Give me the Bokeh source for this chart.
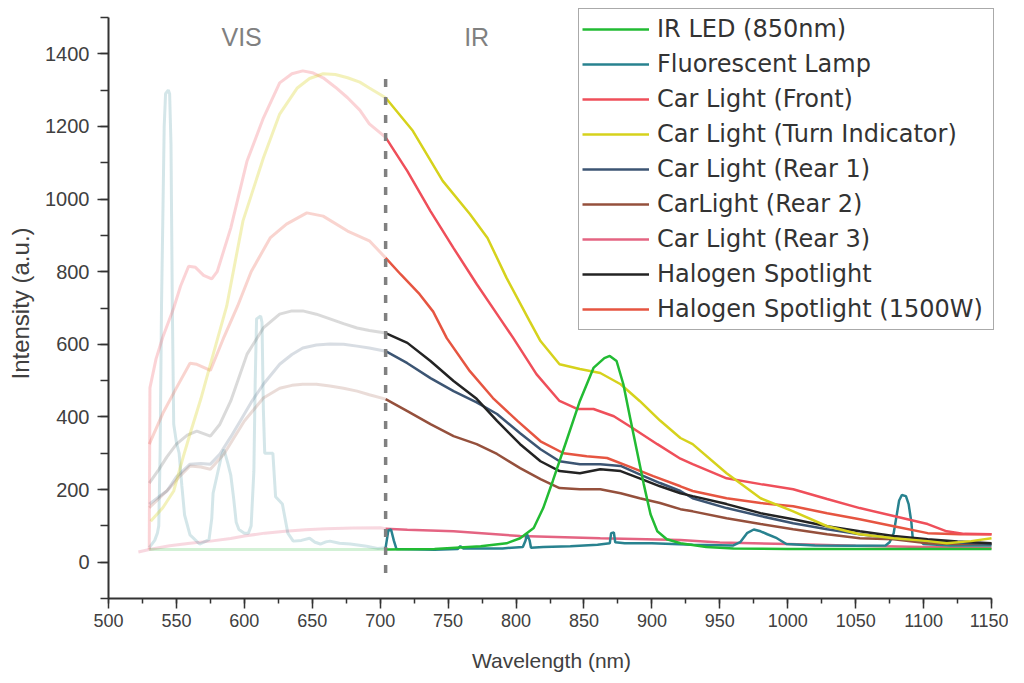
import numpy as np
from bokeh.plotting import figure
from bokeh.models import Range1d, SingleIntervalTicker, Legend, LegendItem
from bokeh.embed import file_html
from bokeh.resources import INLINE
from bokeh.core.properties import value

# ---------------- data (wavelength nm, intensity a.u.) ----------------
led_wl = [530, 600, 650, 704, 740, 774, 793, 803, 813, 820, 827, 837, 847, 857, 865, 869,
          874, 879, 884, 889, 894, 899, 904, 911, 921, 940, 960, 1000, 1050, 1100, 1150]
led_val = [35, 35, 35, 35, 36, 44, 52, 66, 94, 149, 223, 333, 444, 535, 562, 568,
           554, 490, 397, 306, 215, 132, 85, 63, 52, 42, 38, 36, 36, 36, 36]

fl_wl = [530, 534, 536, 537, 538, 539, 541, 542, 544, 545, 546, 547, 548, 550, 552, 554, 556,
         560, 567, 574, 576, 577, 580, 583, 585, 588, 590, 592, 594, 596, 600, 603, 605, 607,
         608, 609, 612, 613, 614, 615, 621, 623, 628, 630, 632, 636, 642, 648, 652, 656, 660,
         663, 670, 678, 690, 698, 704, 706, 708, 710, 712, 740, 757, 759, 761, 790, 805, 807,
         808, 810, 811, 820, 840, 860, 869, 870, 872, 873, 880, 900, 930, 960, 965, 970, 975,
         980, 985, 992, 999, 1020, 1050, 1072, 1075, 1078, 1082, 1084, 1087, 1089, 1091, 1092,
         1097, 1100, 1120, 1150]
fl_val = [40, 60, 80, 100, 300, 700, 1200, 1290, 1300, 1290, 1150, 700, 380, 330, 300, 210, 130,
          75, 50, 62, 120, 190, 240, 290, 310, 270, 240, 180, 110, 90, 80, 80, 100, 250,
          500, 670, 678, 660, 420, 300, 300, 180, 160, 120, 80, 58, 60, 66, 55, 50, 56,
          58, 52, 50, 44, 38, 40, 88, 90, 60, 36, 34, 36, 44, 38, 38, 42, 60,
          78, 60, 40, 42, 44, 48, 52, 80, 82, 55, 52, 52, 48, 46, 55, 80, 90,
          85, 77, 66, 50, 46, 45, 46, 55, 80, 170, 185, 182, 160, 110, 66,
          62, 50, 46, 46]

front_wl = [530, 530.5, 535, 540, 548, 553, 559, 564, 570, 576, 580, 590, 602, 614, 626, 635,
            643, 650, 658, 667, 676, 685, 692, 704, 720, 737, 754, 771, 788, 798, 815, 832,
            845, 857, 872, 886, 904, 921, 930, 955, 980, 1004, 1029, 1053, 1078, 1103, 1117,
            1130, 1150]
front_val = [35, 480, 560, 620, 700, 760, 815, 812, 790, 780, 800, 920, 1105, 1223, 1320, 1345,
             1353, 1348, 1334, 1308, 1279, 1245, 1207, 1170, 1077, 967, 865, 766, 672, 617, 518, 444,
             422, 422, 402, 369, 325, 285, 270, 231, 215, 201, 174, 149, 127, 105, 85,
             78, 77]

turn_wl = [531, 540, 548, 555, 560, 568, 575, 587, 599, 614, 626, 639, 648, 658, 667, 676, 685,
           692, 704, 724, 746, 766, 779, 793, 810, 818, 832, 847, 862, 877, 891, 906, 921, 930,
           955, 980, 1004, 1029, 1053, 1078, 1103, 1117, 1135, 1150]
turn_val = [113, 150, 196, 290, 353, 450, 545, 705, 940, 1113, 1234, 1306, 1332, 1345, 1343, 1334, 1322,
            1306, 1279, 1188, 1050, 959, 893, 783, 664, 609, 545, 532, 521, 490, 444, 390, 342, 325,
            245, 176, 140, 99, 77, 66, 58, 52, 58, 66]

rear1_wl = [530, 537, 543, 550, 560, 568, 575, 582, 590, 597, 605, 614, 626, 635, 643, 653, 663,
            673, 683, 692, 704, 720, 737, 754, 771, 786, 803, 818, 832, 847, 862, 877, 891, 906,
            921, 930, 955, 980, 1004, 1029, 1053, 1078, 1103, 1125, 1150]
rear1_val = [160, 180, 196, 235, 270, 272, 270, 298, 345, 389, 440, 490, 545, 572, 590, 598, 601,
             600, 595, 590, 581, 548, 507, 471, 440, 408, 355, 311, 278, 270, 270, 265, 242, 218,
             196, 176, 149, 127, 107, 91, 77, 66, 58, 54, 50]

rear2_wl = [530, 537, 545, 552, 560, 568, 575, 585, 600, 614, 626, 635, 643, 653, 663, 673, 683,
            692, 704, 720, 737, 754, 771, 786, 803, 818, 832, 847, 862, 877, 891, 906, 921, 930,
            955, 980, 1004, 1029, 1053, 1078, 1103, 1125, 1150]
rear2_val = [150, 175, 204, 235, 265, 262, 256, 298, 389, 452, 479, 487, 490, 490, 485, 479, 471,
             461, 449, 416, 380, 347, 325, 298, 259, 229, 204, 201, 201, 190, 176, 163, 146, 140,
             121, 105, 91, 77, 66, 63, 52, 50, 50]

rear3_wl = [522, 530, 545, 560, 575, 590, 600, 615, 630, 645, 660, 680, 700, 704, 720, 754, 803,
            862, 921, 950, 1000, 1050, 1100, 1150]
rear3_val = [28, 35, 45, 52, 58, 65, 72, 80, 85, 89, 92, 94, 95, 92, 89, 85, 72,
             66, 61, 54, 50, 45, 42, 39]

hal_wl = [530, 537, 543, 550, 558, 565, 575, 582, 590, 602, 614, 626, 635, 643, 653, 663, 673,
          683, 692, 704, 720, 737, 754, 771, 786, 803, 818, 832, 847, 862, 877, 891, 906, 921,
          930, 955, 980, 1004, 1029, 1053, 1078, 1103, 1125, 1150]
hal_val = [218, 255, 290, 325, 350, 361, 347, 380, 444, 573, 645, 683, 692, 692, 683, 670, 657,
           645, 638, 631, 604, 554, 499, 450, 389, 325, 278, 251, 245, 256, 251, 231, 209, 190,
           182, 160, 135, 118, 99, 85, 72, 63, 57, 52]

h15_wl = [530, 540, 550, 560, 565, 575, 585, 595, 605, 619, 631, 646, 658, 676, 692, 704, 715,
          729, 739, 749, 766, 783, 801, 818, 835, 852, 867, 882, 901, 921, 930, 955, 980, 1004,
          1029, 1053, 1078, 1103, 1127, 1150]
h15_val = [325, 410, 480, 548, 545, 528, 620, 705, 800, 893, 931, 962, 953, 912, 885, 838, 793,
           738, 690, 617, 526, 452, 389, 333, 300, 292, 287, 265, 237, 209, 196, 176, 163, 154,
           135, 118, 99, 80, 77, 77]

legend_labels = ["IR LED (850nm)", "Fluorescent Lamp", "Car Light (Front)",
                 "Car Light (Turn Indicator)", "Car Light (Rear 1)", "CarLight (Rear 2)",
                 "Car Light (Rear 3)", "Halogen Spotlight", "Halogen Spotlight (1500W)"]
colors = ["#22bb33", "#28828f", "#ef4f5a", "#d6d21c", "#3c5573", "#95503c", "#e46482",
          "#232323", "#e65541"]
vis_alpha = [0.2, 0.2, 0.25, 0.3, 0.2, 0.2, 0.25, 0.17, 0.25]
data = [(led_wl, led_val), (fl_wl, fl_val), (front_wl, front_val), (turn_wl, turn_val),
        (rear1_wl, rear1_val), (rear2_wl, rear2_val), (rear3_wl, rear3_val),
        (hal_wl, hal_val), (h15_wl, h15_val)]

BOUNDARY = 704           # VIS / IR border (nm)
DIVIDER_Y = (-30, 1345)  # extent of dashed divider
region_x = [598, 771]
region_y = [1447, 1447]
region_text = ["VIS", "IR"]

# ---------------- figure ----------------
p = figure(width=1008, height=675, output_backend="svg", toolbar_location=None,
           x_range=Range1d(500, 1152.2), y_range=Range1d(-100, 1524.8),
           min_border_left=108, min_border_right=14, min_border_top=8, min_border_bottom=77)
p.grid.visible = False
p.outline_line_color = None

draw_order = [6, 1, 5, 4, 7, 8, 2, 3, 0]
# faded visible part
for i in draw_order:
    wl = np.array(data[i][0], dtype=float)
    v = np.array(data[i][1], dtype=float)
    m = wl <= BOUNDARY
    p.line(wl[m], v[m], line_color=colors[i], line_alpha=vis_alpha[i], line_width=3)

renderers = {}
for i in draw_order:
    wl = np.array(data[i][0], dtype=float)
    v = np.array(data[i][1], dtype=float)
    m = wl >= BOUNDARY
    renderers[i] = p.line(wl[m], v[m], line_color=colors[i], line_width=2.5)

p.segment(x0=[BOUNDARY], y0=[DIVIDER_Y[0]], x1=[BOUNDARY], y1=[DIVIDER_Y[1]],
          line_color="#808080", line_width=3.5, line_dash="8 10")

p.text(x=region_x, y=region_y, text=region_text, text_font=value("Liberation Sans"),
       text_font_size="25px", text_color="#808080", text_align="center",
       text_baseline="middle")

items = [LegendItem(label=legend_labels[i], renderers=[renderers[i]]) for i in range(9)]
legend = Legend(items=items, location="top_right", margin=0, padding=3, spacing=1,
                label_height=34, label_width=333, glyph_height=20, glyph_width=67,
                label_standoff=8,
                label_text_font="DejaVu Sans", label_text_font_size="24px",
                label_text_color="#333333", border_line_color="#555555",
                border_line_width=1.5, background_fill_color="white",
                background_fill_alpha=1.0)
p.add_layout(legend, "center")

# ---------------- axes ----------------
p.xaxis.ticker = SingleIntervalTicker(interval=50, num_minor_ticks=2)
p.yaxis.ticker = SingleIntervalTicker(interval=200, num_minor_ticks=2)
for ax in (p.xaxis, p.yaxis):
    ax.axis_line_color = "#333333"
    ax.axis_line_width = 2
    ax.major_tick_line_color = "#333333"
    ax.minor_tick_line_color = "#333333"
    ax.major_tick_line_width = 1.5
    ax.minor_tick_line_width = 1.5
    ax.major_tick_in = 0
    ax.minor_tick_in = 0
    ax.major_label_text_font = "Liberation Sans"
    ax.major_label_text_color = "#404040"
    ax.axis_label_text_font = "Liberation Sans"
    ax.axis_label_text_font_style = "normal"
    ax.axis_label_text_color = "#404040"
p.xaxis.bounds = (500, 1150)
p.yaxis.bounds = (-100, 1500)
p.xaxis.major_tick_out = 10
p.xaxis.minor_tick_out = 5
p.yaxis.major_tick_out = 11
p.yaxis.minor_tick_out = 8
p.xaxis.major_label_text_font_size = "18px"
p.yaxis.major_label_text_font_size = "20px"
p.xaxis.major_label_standoff = 5
p.yaxis.major_label_standoff = 8
p.xaxis.axis_label = "Wavelength (nm)"
p.yaxis.axis_label = "Intensity (a.u.)"
p.xaxis.axis_label_text_font_size = "21px"
p.yaxis.axis_label_text_font_size = "24px"
p.xaxis.axis_label_standoff = 19
p.yaxis.axis_label_standoff = 8

open("out.html", "w").write(file_html(p, INLINE))
